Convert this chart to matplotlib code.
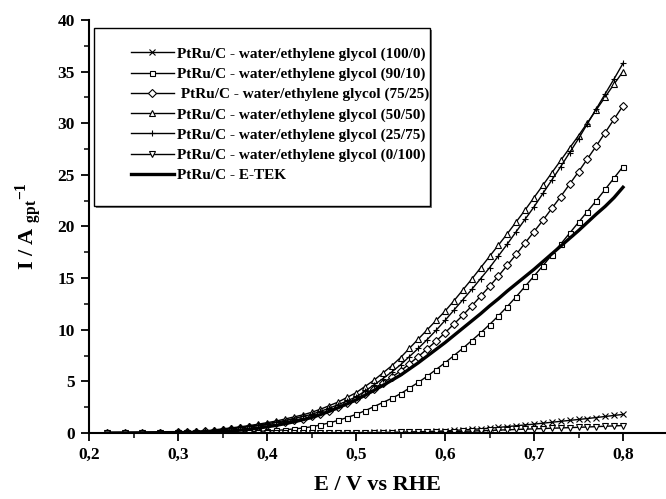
import matplotlib
matplotlib.use("Agg")
import matplotlib.pyplot as plt
from matplotlib.ticker import MultipleLocator, FuncFormatter
from matplotlib.patches import Rectangle

plt.rcParams['font.family'] = ['Liberation Serif', 'DejaVu Serif']
plt.rcParams['font.weight'] = 'bold'
plt.rcParams['mathtext.fontset'] = 'custom'
plt.rcParams['mathtext.rm'] = 'Liberation Serif:bold'
plt.rcParams['mathtext.it'] = 'Liberation Serif:bold'
plt.rcParams['mathtext.bf'] = 'Liberation Serif:bold'

E = [0.22, 0.24, 0.26, 0.28,
     0.30, 0.31, 0.32, 0.33, 0.34, 0.35, 0.36, 0.37, 0.38, 0.39,
     0.40, 0.41, 0.42, 0.43, 0.44, 0.45, 0.46, 0.47, 0.48, 0.49,
     0.50, 0.51, 0.52, 0.53, 0.54, 0.55, 0.56, 0.57, 0.58, 0.59,
     0.60, 0.61, 0.62, 0.63, 0.64, 0.65, 0.66, 0.67, 0.68, 0.69,
     0.70, 0.71, 0.72, 0.73, 0.74, 0.75, 0.76, 0.77, 0.78, 0.79, 0.80]

I_100_0 = [0.02, 0.02, 0.02, 0.02,
           0.02, 0.02, 0.02, 0.02, 0.02, 0.02, 0.02, 0.02, 0.02, 0.02,
           0.02, 0.02, 0.03, 0.03, 0.03, 0.03, 0.03, 0.03, 0.04, 0.04,
           0.04, 0.04, 0.05, 0.05, 0.06, 0.08, 0.10, 0.12, 0.14, 0.17,
           0.20, 0.25, 0.30, 0.35, 0.40, 0.47, 0.54, 0.62, 0.70, 0.78,
           0.86, 0.95, 1.04, 1.13, 1.22, 1.31, 1.40, 1.50, 1.60, 1.70, 1.80]

I_90_10 = [0.0, 0.0, 0.01, 0.01,
           0.02, 0.02, 0.03, 0.04, 0.05, 0.06, 0.08, 0.10, 0.13, 0.16,
           0.20, 0.25, 0.31, 0.39, 0.48, 0.60, 0.78, 0.98, 1.22, 1.50,
           1.80, 2.15, 2.55, 2.95, 3.35, 3.80, 4.35, 4.90, 5.50, 6.15,
           6.80, 7.50, 8.20, 8.95, 9.70, 10.50, 11.35, 12.25, 13.20, 14.20,
           15.20, 16.20, 17.25, 18.30, 19.35, 20.40, 21.45, 22.50, 23.60, 24.70, 25.80]

I_75_25 = [0.0, 0.01, 0.02, 0.03,
           0.05, 0.07, 0.10, 0.15, 0.22, 0.30, 0.38, 0.47, 0.57, 0.68,
           0.80, 0.93, 1.07, 1.23, 1.40, 1.60, 1.87, 2.17, 2.50, 2.88,
           3.30, 3.80, 4.30, 4.85, 5.40, 6.00, 6.70, 7.40, 8.15, 8.90,
           9.70, 10.55, 11.40, 12.30, 13.25, 14.20, 15.20, 16.25, 17.30, 18.40,
           19.50, 20.60, 21.75, 22.90, 24.10, 25.30, 26.55, 27.80, 29.10, 30.40, 31.70]

I_50_50 = [0.0, 0.02, 0.03, 0.05,
           0.08, 0.10, 0.15, 0.20, 0.30, 0.40, 0.50, 0.60, 0.72, 0.85,
           1.00, 1.15, 1.35, 1.55, 1.75, 2.00, 2.30, 2.65, 3.00, 3.45,
           3.90, 4.50, 5.10, 5.80, 6.50, 7.30, 8.20, 9.10, 10.00, 10.90,
           11.80, 12.80, 13.85, 14.90, 16.00, 17.10, 18.20, 19.30, 20.45, 21.60,
           22.80, 24.00, 25.20, 26.40, 27.60, 28.80, 30.05, 31.30, 32.55, 33.80, 35.00]

I_25_75 = [0.0, 0.01, 0.02, 0.04,
           0.06, 0.09, 0.12, 0.17, 0.25, 0.35, 0.44, 0.54, 0.65, 0.77,
           0.90, 1.05, 1.20, 1.40, 1.60, 1.80, 2.10, 2.40, 2.75, 3.10,
           3.50, 4.05, 4.65, 5.25, 5.90, 6.60, 7.40, 8.20, 9.05, 9.95,
           10.90, 11.90, 12.90, 13.90, 14.95, 16.00, 17.15, 18.30, 19.50, 20.70,
           21.90, 23.20, 24.50, 25.80, 27.15, 28.50, 29.95, 31.40, 32.85, 34.30, 35.80]

I_0_100 = [0.01, 0.01, 0.01, 0.01,
           0.01, 0.01, 0.01, 0.01, 0.01, 0.01, 0.01, 0.01, 0.01, 0.01,
           0.01, 0.01, 0.01, 0.01, 0.02, 0.02, 0.02, 0.02, 0.02, 0.02,
           0.03, 0.03, 0.03, 0.04, 0.04, 0.05, 0.06, 0.07, 0.08, 0.10,
           0.12, 0.14, 0.16, 0.19, 0.22, 0.25, 0.28, 0.31, 0.34, 0.37,
           0.40, 0.43, 0.46, 0.49, 0.52, 0.55, 0.58, 0.62, 0.65, 0.69, 0.72]

I_ETEK = [0.0, 0.01, 0.02, 0.03,
          0.04, 0.05, 0.07, 0.09, 0.12, 0.15, 0.21, 0.28, 0.37, 0.48,
          0.60, 0.74, 0.90, 1.08, 1.28, 1.50, 1.78, 2.10, 2.45, 2.82,
          3.20, 3.65, 4.12, 4.60, 5.10, 5.60, 6.20, 6.80, 7.45, 8.10,
          8.75, 9.45, 10.15, 10.85, 11.55, 12.30, 13.00, 13.75, 14.45, 15.15,
          15.85, 16.60, 17.35, 18.10, 18.85, 19.60, 20.40, 21.20, 21.95, 22.80, 23.80]

labels = ["PtRu/C - water/ethylene glycol (100/0)",
          "PtRu/C - water/ethylene glycol (90/10)",
          " PtRu/C - water/ethylene glycol (75/25)",
          "PtRu/C - water/ethylene glycol (50/50)",
          "PtRu/C - water/ethylene glycol (25/75)",
          "PtRu/C - water/ethylene glycol (0/100)",
          "PtRu/C - E-TEK"]

x_ticks = [0.2, 0.3, 0.4, 0.5, 0.6, 0.7, 0.8]
y_ticks = [0, 5, 10, 15, 20, 25, 30, 35, 40]

fig = plt.figure(figsize=(6.66, 4.99), dpi=100)
ax = fig.add_axes([89/666, 66/499, 577/666, 413/499])

series = [I_100_0, I_90_10, I_75_25, I_50_50, I_25_75, I_0_100]
markers = ['x', 's', 'D', '^', '+', 'v']
msizes = [4.5, 3.6, 3.6, 4.2, 5.0, 4.2]
handles = []
for ys, m, ms, lab in zip(series, markers, msizes, labels[:6]):
    h, = ax.plot(E, ys, color='black', lw=1.0, marker=m, markersize=ms,
                 markerfacecolor='white', markeredgecolor='black',
                 markeredgewidth=0.8, label=lab)
    handles.append(h)
h, = ax.plot(E, I_ETEK, color='black', lw=2.4, label=labels[6])
handles.append(h)

ax.set_xlim(0.2, 0.2 + 577/890)
ax.set_ylim(0, 40)
ax.set_xticks(x_ticks)
ax.set_yticks(y_ticks)
ax.xaxis.set_minor_locator(MultipleLocator(0.05))
ax.yaxis.set_minor_locator(MultipleLocator(2.5))
ax.xaxis.set_major_formatter(FuncFormatter(lambda v, p: f"{v:.1f}".replace('.', ',')))
ax.yaxis.set_major_formatter(FuncFormatter(lambda v, p: f"{v:.0f}"))
for s in ['top', 'right']:
    ax.spines[s].set_visible(False)
for s in ['left', 'bottom']:
    ax.spines[s].set_linewidth(1.5)
ax.tick_params(which='major', direction='out', length=6, width=1.3,
               labelsize=12.5, pad=4)
ax.tick_params(which='minor', direction='out', length=3.5, width=1.1)
for t in ax.get_xticklabels() + ax.get_yticklabels():
    t.set_fontweight('bold')

ax.set_xlabel("E / V vs RHE", fontsize=16, fontweight='bold', labelpad=9)
ax.set_ylabel(r"I / A $_{\mathbf{gpt}}{}^{\mathbf{-1}}$", fontsize=16,
              fontweight='bold', labelpad=10)

# legend frame with shadow
x0, x1 = (94-89)/577, (430-89)/577
y0, y1 = (433-206)/413, (433-28)/413
ax.add_patch(Rectangle((x0 + 0.004, y0 - 0.006), x1 - x0, y1 - y0,
                       transform=ax.transAxes, facecolor='#777777',
                       edgecolor='none', zorder=4, clip_on=False))
ax.add_patch(Rectangle((x0, y0), x1 - x0, y1 - y0, transform=ax.transAxes,
                       facecolor='white', edgecolor='black', lw=1.0,
                       zorder=5, clip_on=False))
leg = ax.legend(handles=handles, loc='upper left',
                bbox_to_anchor=((131-89)/577, (433-47)/413),
                frameon=False, borderpad=0, borderaxespad=0,
                handlelength=2.8, handletextpad=0.2,
                labelspacing=0.42, numpoints=1,
                prop={'weight': 'bold', 'size': 11})
leg.set_zorder(6)

fig.savefig("out.png", dpi=100)
